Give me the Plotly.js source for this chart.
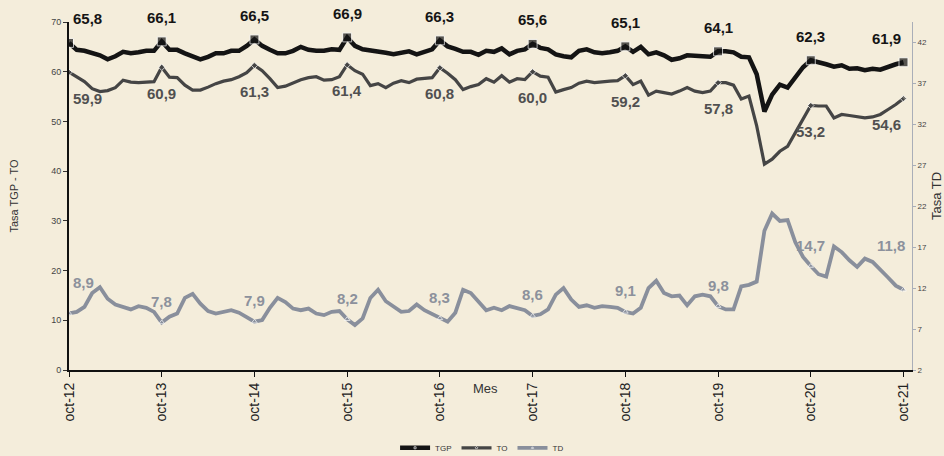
<!DOCTYPE html>
<html>
<head>
<meta charset="utf-8">
<script src="https://cdn.plot.ly/plotly-3.0.1.min.js"></script>
<style>html,body{margin:0;padding:0;background:#f4eddb;}#chart{width:944px;height:456px;}</style>
</head>
<body>
<div id="chart"></div>
<script>
// ---- Data (monthly, oct-12 .. oct-21) ----
const startYear = 2012;
const startMonth = 9; // octubre (0-based)
const mesesAbrev = ['ene','feb','mar','abr','may','jun','jul','ago','sep','oct','nov','dic'];

const TGP = [
 65.8,64.4,64.2,63.8,63.3,62.5,63.1,64.0,63.7,63.9,64.2,64.2,
 66.1,64.4,64.4,63.7,63.2,62.5,63.0,63.7,63.7,64.2,64.2,65.2,
 66.5,65.2,64.4,63.7,63.7,64.2,65.0,64.4,64.2,64.2,64.5,64.4,
 66.9,65.2,64.5,64.3,64.2,63.8,63.5,63.9,64.1,63.5,64.0,64.5,
 66.3,65.1,64.6,64.0,64.0,63.4,64.2,64.0,64.7,63.5,64.2,64.5,
 65.6,64.8,64.5,63.5,63.1,62.9,64.2,64.5,63.9,63.7,63.9,64.2,
 65.1,64.0,65.0,63.5,63.9,63.3,62.4,62.7,63.3,63.3,63.1,63.0,
 64.1,64.1,63.9,63.0,62.9,59.5,52.0,55.4,57.4,56.8,58.8,60.9,
 62.3,62.0,61.5,61.0,61.3,60.6,60.7,60.3,60.6,60.4,61.0,61.5,
 61.9
];
const TO = [
 59.9,59.0,58.0,56.6,56.0,56.2,56.8,58.3,57.9,57.8,57.9,58.0,
 60.9,58.9,58.8,57.3,56.3,56.3,56.9,57.6,58.1,58.4,59.0,59.8,
 61.3,60.2,58.6,56.8,57.1,57.8,58.4,58.8,59.0,58.3,58.4,59.0,
 61.4,60.2,59.5,57.2,57.6,56.8,57.7,58.2,57.8,58.5,58.7,58.8,
 60.8,59.7,58.4,56.4,57.0,57.4,58.6,57.9,59.2,57.9,58.6,58.4,
 60.0,59.1,58.9,55.9,56.4,56.8,57.7,58.1,57.8,58.0,58.1,58.2,
 59.2,57.4,58.1,55.3,56.1,55.8,55.5,56.1,56.8,56.1,55.8,56.1,
 57.8,57.8,57.3,54.5,55.1,49.1,41.4,42.4,44.0,45.0,47.7,50.4,
 53.2,53.1,53.1,50.7,51.4,51.2,50.9,50.7,50.9,51.4,52.4,53.4,
 54.6
];
const TD = [
 8.9,9.1,9.7,11.4,12.1,10.7,10.0,9.7,9.4,9.8,9.6,9.1,
 7.8,8.5,8.9,10.8,11.3,10.1,9.2,8.9,9.1,9.3,9.0,8.5,
 7.9,8.1,9.6,10.8,10.3,9.5,9.3,9.5,8.9,8.7,9.1,9.2,
 8.2,7.5,8.3,10.8,11.8,10.4,9.7,9.1,9.2,10.0,9.3,8.8,
 8.3,7.9,9.0,11.8,11.4,10.3,9.3,9.6,9.3,9.8,9.5,9.3,
 8.6,8.8,9.4,11.2,12.0,10.6,9.7,9.9,9.6,9.8,9.7,9.6,
 9.1,8.9,9.6,12.0,12.9,11.4,11.0,11.1,9.9,11.0,11.2,11.0,
 9.8,9.4,9.4,12.2,12.4,12.8,19.0,21.1,20.2,20.3,17.6,15.8,
 14.7,13.7,13.4,17.1,16.4,15.4,14.6,15.6,15.2,14.3,13.3,12.3,
 11.8
];
const leftTicks = [0,10,20,30,40,50,60,70];
const rightTicks = [2,7,12,17,22,27,32,37,42];

// categories
const meses = TGP.map((_, i) => {
  const m = (startMonth + i) % 12;
  const y = startYear + Math.floor((startMonth + i) / 12);
  return mesesAbrev[m] + '-' + String(y % 100).padStart(2, '0');
});
const octIdx = meses.map((m, i) => m.startsWith('oct') ? i : -1).filter(i => i >= 0);
const octLabels = octIdx.map(i => meses[i]);

const fmt = v => v.toFixed(1).replace('.', ',');
const isOct = i => octIdx.includes(i);
const FONT = 'Liberation Sans, Arial, sans-serif';

const traces = [
  {x: meses, y: TGP, name: 'TGP', type: 'scatter', mode: 'lines+markers',
   line: {color: '#141414', width: 4.5},
   marker: {symbol: 'square', color: '#141414', size: meses.map((_, i) => isOct(i) ? 9 : 0)}},
  {x: meses, y: TO, name: 'TO', type: 'scatter', mode: 'lines+markers',
   line: {color: '#454545', width: 3.2},
   marker: {symbol: 'diamond', color: '#454545', size: meses.map((_, i) => isOct(i) ? 5 : 0)}},
  {x: meses, y: TD, name: 'TD', type: 'scatter', mode: 'lines+markers', yaxis: 'y2',
   line: {color: '#898f9c', width: 3.8},
   marker: {symbol: 'triangle-up', color: '#898f9c', size: meses.map((_, i) => isOct(i) ? 5 : 0)}}
];

const annotations = [];
const nOct = octIdx.length;
octIdx.forEach((i, k) => {
  const first = k === 0, last = k === nOct - 1;
  const xs = first ? 18 : (last ? -17 : 0);
  annotations.push({x: meses[i], y: TGP[i], xref: 'x', yref: 'y', text: fmt(TGP[i]), showarrow: false,
    yshift: 24, xshift: xs, font: {family: FONT, size: 15, color: '#151515', weight: 'bold'}});
  annotations.push({x: meses[i], y: TO[i], xref: 'x', yref: 'y', text: fmt(TO[i]), showarrow: false,
    yshift: -26, xshift: xs, font: {family: FONT, size: 15, color: '#505050', weight: 'bold'}});
  annotations.push({x: meses[i], y: TD[i], xref: 'x', yref: 'y2', text: fmt(TD[i]), showarrow: false,
    yshift: first ? 31 : (last ? 44 : 21), xshift: first ? 14 : (last ? -13 : 0),
    font: {family: FONT, size: 15, color: '#8c919c', weight: 'bold'}});
});
annotations.push({x: 0.494, y: -0.08, xref: 'paper', yref: 'paper', text: 'Mes', showarrow: false,
  font: {family: FONT, size: 13, color: '#333'}});

const layout = {
  width: 944, height: 456,
  margin: {l: 69, r: 32, t: 22, b: 86, autoexpand: false},
  paper_bgcolor: '#f4eddb', plot_bgcolor: '#f4eddb',
  font: {family: FONT, color: '#333'},
  showlegend: true,
  legend: {orientation: 'h', x: 0.49, xanchor: 'center', yref: 'container', y: 0.018, yanchor: 'middle',
    font: {family: FONT, size: 8, color: '#333'}, bgcolor: 'rgba(0,0,0,0)', itemwidth: 30},
  xaxis: {type: 'category', range: [0, 109.1], tickmode: 'array', tickvals: octLabels, ticktext: octLabels,
    tickangle: -90, tickfont: {family: FONT, size: 14, color: '#222'}, automargin: false,
    showgrid: false, zeroline: false, showline: true, linecolor: '#111', linewidth: 2,
    ticks: 'outside', ticklen: 5, tickcolor: '#111'},
  yaxis: {range: [0, 70], tickmode: 'array', tickvals: leftTicks, ticktext: leftTicks.map(String),
    tickfont: {family: FONT, size: 9, color: '#444'}, automargin: false,
    showgrid: false, zeroline: false, showline: true, linecolor: '#111', linewidth: 2,
    ticks: 'outside', ticklen: 4, tickcolor: '#333',
    title: {text: 'Tasa TGP - TO', font: {family: FONT, size: 11, color: '#333'}, standoff: 30}},
  yaxis2: {overlaying: 'y', side: 'right', range: [2, 44.5], tickmode: 'array', tickvals: rightTicks,
    ticktext: rightTicks.map(String), tickfont: {family: FONT, size: 8, color: '#444'}, automargin: false,
    showgrid: false, zeroline: false, showline: true, linecolor: '#a9aeb8', linewidth: 1,
    ticks: 'outside', ticklen: 3, tickcolor: '#a9aeb8',
    title: {text: 'Tasa TD', font: {family: FONT, size: 13, color: '#333'}, standoff: 17}},
  annotations: annotations
};

Plotly.newPlot('chart', traces, layout, {displayModeBar: false, staticPlot: true});
</script>
</body>
</html>
